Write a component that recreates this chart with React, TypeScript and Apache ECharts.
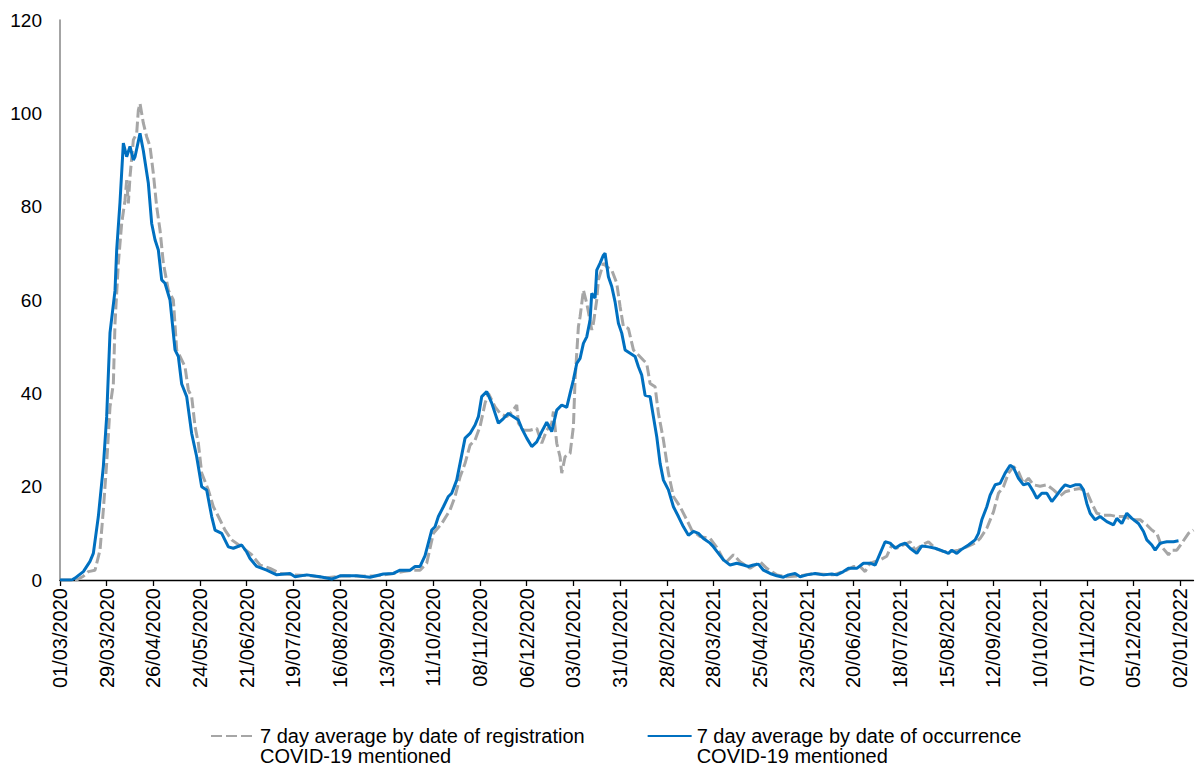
import React, { useEffect, useRef } from "react";
import * as echarts from "echarts";

// Day offsets from 01/03/2020 and values (7 day average by date of occurrence)
const occDays = [0, 7, 9, 14, 18, 20, 23, 26, 28, 30, 33, 34, 36, 38, 40, 42, 44, 45, 48, 50, 53, 55, 57, 59, 61, 63, 66, 69, 71, 73, 76, 79, 82, 85, 88, 91, 93, 97, 101, 104, 109, 112, 114, 118, 124, 130, 138, 141, 148, 156, 163, 168, 178, 186, 194, 200, 204, 210, 213, 216, 219, 223, 225, 227, 230, 233, 235, 238, 240, 243, 246, 249, 251, 253, 256, 259, 263, 266, 269, 272, 275, 277, 280, 283, 286, 289, 292, 295, 298, 301, 304, 306, 308, 310, 312, 314, 316, 318, 319, 321, 322, 324, 326, 327, 329, 331, 333, 335, 337, 339, 342, 345, 347, 349, 351, 354, 356, 358, 360, 362, 365, 368, 371, 374, 377, 380, 383, 386, 390, 392, 395, 398, 402, 406, 410, 413, 416, 419, 422, 426, 430, 434, 437, 441, 444, 448, 453, 458, 463, 466, 470, 473, 478, 482, 486, 489, 492, 495, 498, 501, 504, 507, 510, 514, 517, 521, 525, 529, 533, 535, 538, 541, 545, 549, 551, 553, 556, 558, 561, 564, 567, 570, 572, 575, 578, 581, 584, 586, 589, 592, 595, 598, 601, 603, 606, 609, 612, 614, 616, 618, 621, 624, 628, 632, 634, 637, 640, 643, 647, 650, 652, 655, 657, 660, 664, 668, 671];
const occValues = [0, 0, 0.4, 1.8, 4, 5.7, 13.6, 24.3, 35, 53, 62, 70.7, 81, 93.6, 90.7, 92.9, 90, 90.7, 95.7, 92, 85, 76.4, 72.9, 70.7, 64.3, 63.6, 60, 49.3, 47.9, 42, 39.3, 31.4, 26.4, 20, 19.3, 13.6, 10.7, 10, 7.1, 6.8, 7.5, 6, 4.6, 2.9, 2.1, 1.1, 1.4, 0.7, 1.1, 0.7, 0.2, 0.9, 0.9, 0.6, 1.3, 1.4, 2.1, 2.1, 2.9, 2.9, 5.2, 10.7, 11.4, 13.6, 15.7, 17.9, 18.6, 21.4, 25, 30.4, 31.4, 33.2, 35, 39.3, 40.4, 37.9, 33.6, 34.6, 35.7, 35, 34.3, 32.5, 30.4, 28.6, 29.6, 31.8, 33.8, 31.8, 36.4, 37.5, 37, 40, 42.9, 46.4, 47.5, 50.7, 52.1, 55.7, 61.4, 60.4, 66.4, 67.9, 69.6, 70, 65, 62.9, 59.6, 55, 52.9, 49.3, 48.6, 47.9, 45.7, 43.9, 39.6, 39.3, 35, 30.7, 25, 21.4, 19.3, 15.7, 13.6, 11.4, 9.6, 10.4, 10, 8.9, 7.9, 7.1, 5.7, 4.3, 3.2, 3.6, 3.2, 2.9, 3.2, 3.4, 2.1, 1.4, 0.9, 0.6, 1.1, 1.4, 0.7, 1.1, 1.4, 1.1, 1.3, 1.1, 1.8, 2.5, 2.5, 3.6, 3.6, 3.2, 5.7, 8.2, 7.9, 6.8, 7.5, 7.9, 6.8, 5.7, 7.3, 7.1, 6.8, 6.3, 5.7, 6.4, 5.7, 6.6, 7.5, 8.6, 10, 12.9, 15.7, 18.2, 20.4, 20.7, 22.9, 24.6, 24.1, 21.8, 20.4, 20.7, 18.9, 17.5, 18.6, 18.6, 16.8, 18.2, 19.6, 20.4, 20, 20.4, 20.4, 19.3, 16.4, 14.3, 12.9, 13.6, 12.5, 11.8, 13.2, 12.1, 14.3, 13.2, 12.1, 10.4, 8.6, 7.5, 6.4, 7.9, 8.2, 8.2, 8.4];

// Day offsets and values (7 day average by date of registration)
const regDays = [0, 10, 14, 17, 21, 24, 26, 28, 30, 32, 33, 35, 37, 39, 40, 41, 42, 44, 46, 47, 48, 50, 52, 54, 56, 58, 60, 62, 65, 68, 70, 72, 75, 77, 79, 81, 83, 85, 89, 92, 95, 99, 103, 109, 115, 120, 126, 132, 140, 150, 160, 170, 180, 190, 200, 206, 212, 216, 220, 224, 229, 234, 237, 240, 243, 246, 249, 252, 255, 257, 261, 264, 268, 271, 274, 275, 278, 282, 286, 289, 292, 295, 296, 298, 300, 301, 303, 306, 308, 309, 311, 312, 314, 316, 319, 320, 322, 323, 326, 328, 331, 334, 336, 338, 341, 344, 347, 350, 352, 354, 357, 359, 362, 365, 368, 372, 376, 379, 384, 390, 394, 396, 399, 404, 408, 414, 420, 424, 430, 436, 444, 452, 464, 472, 476, 480, 483, 486, 492, 496, 499, 502, 506, 510, 513, 517, 521, 525, 530, 535, 539, 544, 549, 552, 556, 560, 563, 566, 569, 572, 575, 578, 581, 584, 588, 592, 596, 600, 603, 607, 612, 616, 619, 622, 626, 630, 634, 639, 643, 648, 652, 655, 658, 661, 665, 667, 670, 673, 677, 680];
const regValues = [0, 0, 0.8, 1.8, 2.1, 6.4, 15, 25, 37.1, 42, 55, 67.9, 76.4, 81.4, 85.7, 80.7, 86.4, 94.3, 95.7, 100.7, 102.1, 97.9, 95, 92.9, 87.1, 80, 75, 67.9, 62.1, 60, 49.3, 47.9, 45.7, 40.7, 39.3, 32.9, 29.3, 22.9, 19.3, 15.7, 13.6, 10.7, 8.6, 7.1, 5.4, 3.2, 2.5, 1.4, 1.1, 0.9, 0.5, 0.9, 0.8, 0.9, 1.4, 1.8, 2.1, 2.1, 3.6, 10, 12.1, 15, 17.9, 22.1, 25, 28.9, 30, 32.9, 37.9, 40, 37.1, 35.7, 35, 36, 37.5, 33.6, 32.1, 32.1, 32.5, 29.3, 32.1, 33.6, 36.1, 29.3, 26.4, 22.9, 26.4, 27.1, 32.9, 42.9, 54.3, 56.4, 62.1, 59.3, 53.6, 55, 60, 64.3, 67.9, 67.1, 66.4, 63.6, 58.6, 54.3, 53.9, 49.3, 48.2, 47.1, 46.4, 42.1, 41.4, 35.7, 30, 22.9, 17.9, 15.7, 12.9, 10.7, 9.3, 8.9, 7, 5.7, 3.6, 5.4, 3.9, 2.5, 3.9, 2.5, 1.1, 0.7, 0.9, 1.4, 1.1, 2.1, 2.9, 2.9, 1.8, 3.6, 4.3, 5.1, 7.5, 6.8, 7.5, 8.2, 6.4, 7.5, 8.2, 6.8, 6.1, 6.1, 6.4, 7.1, 7.9, 8.9, 11.1, 14.6, 18.6, 20, 22.9, 24.3, 23.2, 20.7, 21.8, 20.4, 20.1, 20.4, 19.3, 18, 18.9, 19.3, 19.6, 18.9, 16.4, 14.3, 13.9, 13.9, 13.6, 13.6, 12.9, 12.9, 11.8, 10.7, 10, 7.1, 5.4, 6.4, 6.4, 7.9, 10, 10.7];

const seriesNames = [
  "7 day average by date of registration\nCOVID-19 mentioned",
  "7 day average by date of occurrence\nCOVID-19 mentioned",
];

const startDate = Date.UTC(2020, 2, 1);
const totalDays = 680;
const pad = (n: number) => (n < 10 ? "0" + n : "" + n);
const dateCategories: string[] = [];
for (let i = 0; i <= totalDays; i++) {
  const d = new Date(startDate + i * 86400000);
  dateCategories.push(`${pad(d.getUTCDate())}/${pad(d.getUTCMonth() + 1)}/${d.getUTCFullYear()}`);
}

const yTicks = { min: 0, max: 120, interval: 20 };

export default function App() {
  const ref = useRef<HTMLDivElement>(null);
  useEffect(() => {
    if (!ref.current) return;
    const chart = echarts.init(ref.current, null, { renderer: "svg" });
    const font = "Arial, 'Liberation Sans', sans-serif";
    chart.setOption({
      animation: false,
      backgroundColor: "#ffffff",
      textStyle: { fontFamily: font },
      grid: { left: 60, right: 3.5, top: 20, bottom: 187, containLabel: false },
      legend: {
        left: 210,
        top: 706,
        padding: 0,
        itemWidth: 44,
        itemHeight: 14,
        itemGap: 62,
        itemStyle: { opacity: 0 },
        formatter: (name: string) => "\n" + name,
        textStyle: {
          fontSize: 20,
          color: "#000000",
          fontFamily: font,
          lineHeight: 20,
        },
        data: seriesNames,
      },
      xAxis: {
        type: "category",
        data: dateCategories,
        boundaryGap: false,
        axisLine: { lineStyle: { color: "#000000", width: 1.3 } },
        axisTick: { interval: 27, length: 6, lineStyle: { color: "#000000", width: 1.3 } },
        axisLabel: {
          interval: 27,
          rotate: 90,
          fontSize: 20,
          color: "#000000",
          fontFamily: font,
          margin: 8,
        },
        splitLine: { show: false },
      },
      yAxis: {
        type: "value",
        min: yTicks.min,
        max: yTicks.max,
        interval: yTicks.interval,
        axisLine: { show: true, lineStyle: { color: "#868686", width: 1.5 } },
        axisTick: { show: false },
        splitLine: { show: false },
        axisLabel: { fontSize: 19, color: "#000000", fontFamily: font, margin: 18 },
      },
      series: [
        {
          name: seriesNames[0],
          type: "line",
          symbol: "none",
          showSymbol: false,
          lineStyle: { color: "#A6A6A6", width: 3, type: [11, 4] },
          itemStyle: { color: "#A6A6A6" },
          data: regDays.map((d, i) => [d, regValues[i]]),
          z: 2,
        },
        {
          name: seriesNames[1],
          type: "line",
          symbol: "none",
          showSymbol: false,
          lineStyle: { color: "#0070C0", width: 3 },
          itemStyle: { color: "#0070C0" },
          data: occDays.map((d, i) => [d, occValues[i]]),
          z: 3,
        },
      ],
    });
    return () => chart.dispose();
  }, []);
  return (
    <div
      ref={ref}
      style={{ position: "absolute", left: 0, top: 0, width: 1197, height: 767 }}
    />
  );
}
